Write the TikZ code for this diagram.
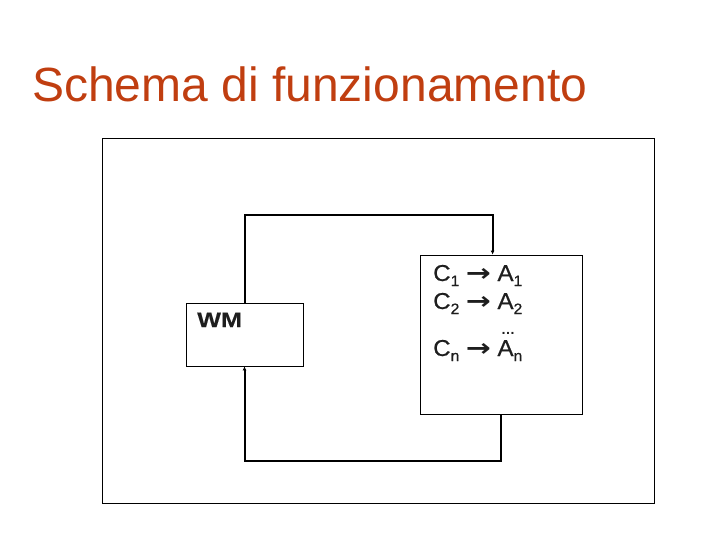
\documentclass[tikz,border=0pt]{standalone}
\usepackage{fontspec}
\usepackage{graphicx}
\setmainfont{Liberation Sans}
\newfontfamily\boxfont[FakeStretch=1.05,FakeBold=0.5]{Liberation Sans}
\newfontfamily\wmfont[FakeStretch=1.2,FakeBold=0.3]{Liberation Sans}
\newfontfamily\arrowfont{DejaVu Sans}
\usetikzlibrary{arrows.meta}
\definecolor{titlecol}{RGB}{192,62,16}
\definecolor{inkcol}{RGB}{30,30,30}
\newcommand{\rarr}{\hspace{6.5pt}\scalebox{1.3}[1.05]{\arrowfont\bfseries\fontsize{23}{24}\selectfont →}\hspace{6.5pt}}
\newcommand{\subx}[1]{\raisebox{-5pt}{\fontsize{15}{15}\selectfont #1}}
\tikzset{
  box/.style={draw=black, line width=0.8pt, rectangle, inner sep=0pt},
  conn/.style={draw=black, line width=2pt, -{Latex[length=4pt,width=4pt]}},
  rule/.style={anchor=base west, inner sep=0pt, text=inkcol, font=\boxfont\fontsize{23}{24}\selectfont},
}
\begin{document}
\begin{tikzpicture}[x=1pt,y=-1pt]
\useasboundingbox (0,0) rectangle (720,540);
% title
\node[anchor=base west, inner sep=0pt, text=titlecol, font=\fontsize{48}{56}\selectfont] (title) at (32,102) {Schema di funzionamento};
% frame
\node[box, minimum width=552pt, minimum height=365pt] (frame) at (378,320.5) {};
% WM box
\node[box, minimum width=117pt, minimum height=63pt] (wm) at (244.5,334.5) {};
\node[anchor=base west, inner sep=0pt, text=inkcol, font=\wmfont\bfseries\fontsize{21}{24}\selectfont] (wmlabel) at (197,327) {WM};
% rules box
\node[box, minimum width=162pt, minimum height=159pt] (rules) at (501,334.5) {};
\node[rule] (r1) at (433,281) {C\subx{1}\rarr A\subx{1}};
\node[rule] (r2) at (433,309) {C\subx{2}\rarr A\subx{2}};
\node[anchor=base, inner sep=0pt, text=inkcol, font=\bfseries\fontsize{14}{16}\selectfont] (dots) at (508,334) {…};
\node[rule] (rn) at (433,356) {C\subx{n}\rarr A\subx{n}};
% connectors
\coordinate (rin) at ([xshift=73pt]rules.north west);
\draw[conn] (wm.north) -- ++(0,-88) -| (rin);
\draw[conn] (rules.south) -- ++(0,47) -| (wm.south);
\end{tikzpicture}
\end{document}
